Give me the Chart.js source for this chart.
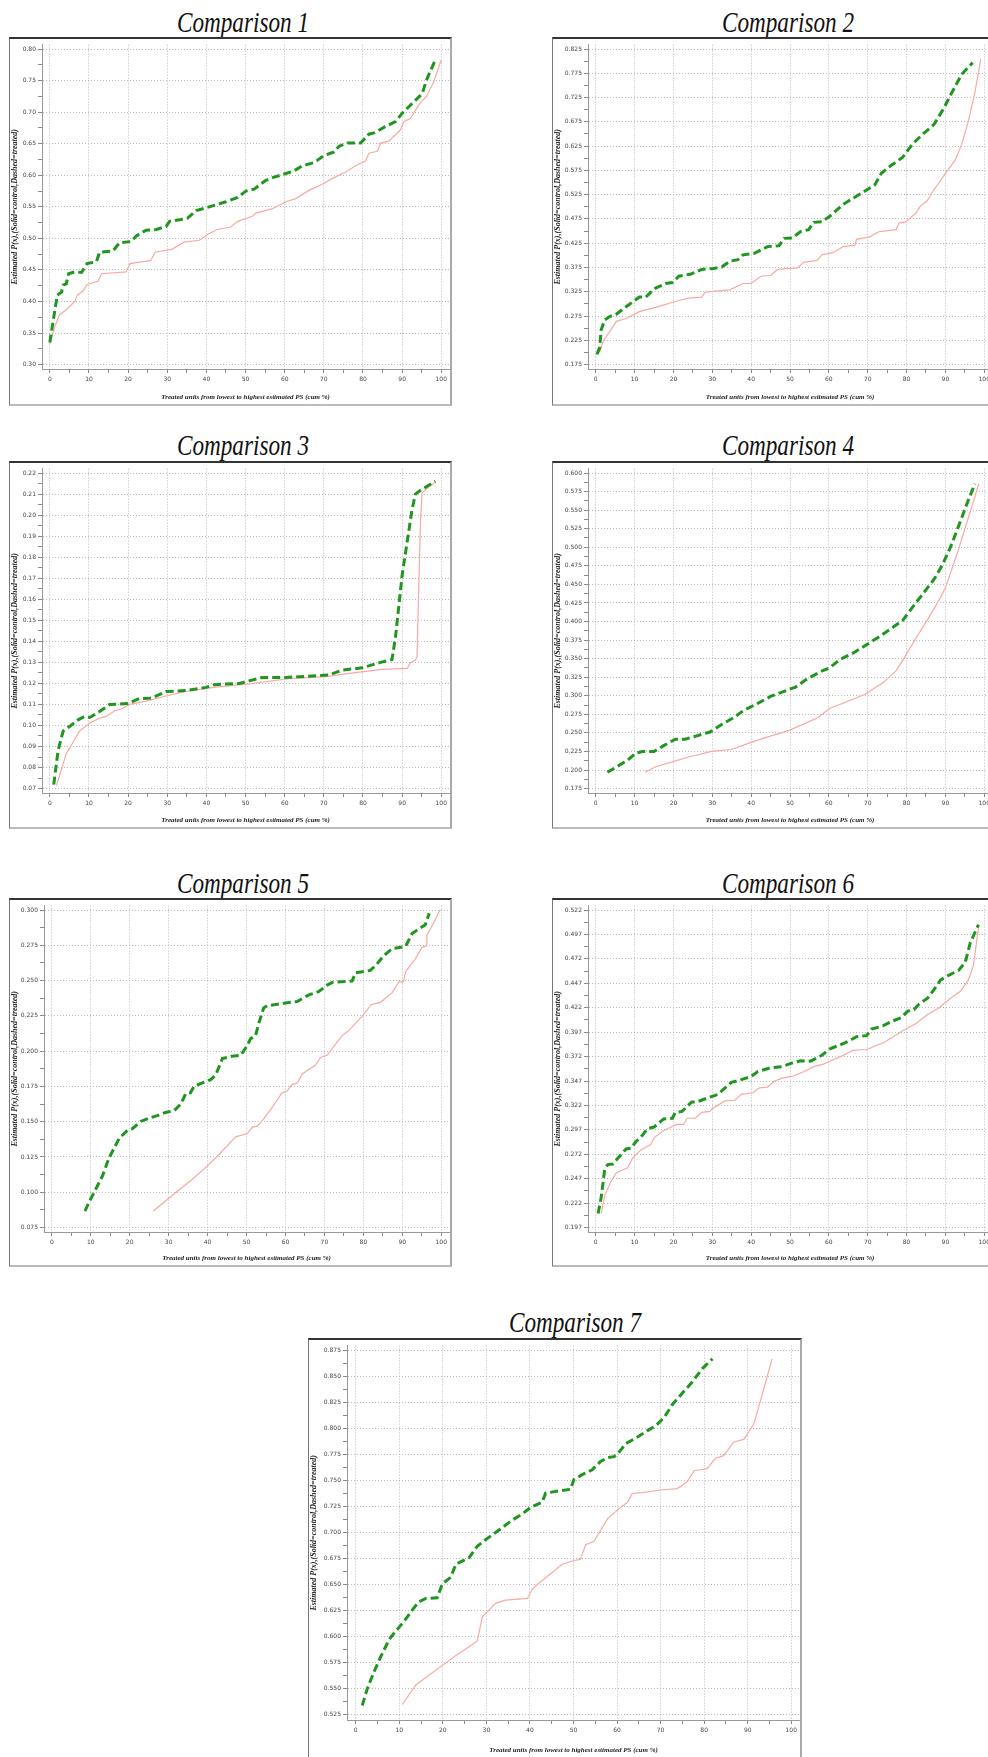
<!DOCTYPE html>
<html>
<head>
<meta charset="utf-8">
<script src="https://cdn.jsdelivr.net/npm/chart.js@4.4.1/dist/chart.umd.min.js"></script>
<style>
  html, body { margin: 0; padding: 0; background: #fff; overflow: hidden; }
  body { width: 988px; height: 1757px; position: relative; }
  .title { position: absolute; width: 300px; text-align: center; font-family: 'Liberation Serif', serif;
           font-style: italic; font-size: 29px; line-height: 29px; color: #111; transform: scaleX(0.8); white-space: nowrap; }
  .frame { position: absolute; box-sizing: border-box; background: #fff;
           border-top: 2px solid #333; border-left: 1px solid #777; border-right: 2px solid #aaa; border-bottom: 2px solid #bbb; }
  .frame div { position: relative; width: 100%; height: 100%; }
</style>
</head>
<body>
<script>
// x axis is the same everywhere (cumulative % of treated units)
const xTickLabels = ['0', '10', '20', '30', '40', '50', '60', '70', '80', '90', '100'];

const c1YTicks = ['0.30', '0.35', '0.40', '0.45', '0.50', '0.55', '0.60', '0.65', '0.70', '0.75', '0.80'];
const c2YTicks = ['0.175', '0.225', '0.275', '0.325', '0.375', '0.425', '0.475', '0.525', '0.575', '0.625', '0.675', '0.725', '0.775', '0.825'];
const c3YTicks = ['0.07', '0.08', '0.09', '0.10', '0.11', '0.12', '0.13', '0.14', '0.15', '0.16', '0.17', '0.18', '0.19', '0.20', '0.21', '0.22'];
const c4YTicks = ['0.175', '0.200', '0.225', '0.250', '0.275', '0.300', '0.325', '0.350', '0.375', '0.400', '0.425', '0.450', '0.475', '0.500', '0.525', '0.550', '0.575', '0.600'];
const c5YTicks = ['0.075', '0.100', '0.125', '0.150', '0.175', '0.200', '0.225', '0.250', '0.275', '0.300'];
const c6YTicks = ['0.197', '0.222', '0.247', '0.272', '0.297', '0.322', '0.347', '0.372', '0.397', '0.422', '0.447', '0.472', '0.497', '0.522'];
const c7YTicks = ['0.525', '0.550', '0.575', '0.600', '0.625', '0.650', '0.675', '0.700', '0.725', '0.750', '0.775', '0.800', '0.825', '0.850', '0.875'];

// [cum %, estimated P(x)]  dashed = treated, solid = control
const comp1Dashed = [[0,0.335],[0.85,0.369],[1.9,0.410],[3,0.415],[3.4,0.426],[4.2,0.428],[4.8,0.444],[6.4,0.447],[8.1,0.446],[9.5,0.460],[11.9,0.463],[12.7,0.478],[16.1,0.480],[17.8,0.493],[20.8,0.495],[22.1,0.504],[24.6,0.513],[27.2,0.514],[29.7,0.519],[30.6,0.527],[33.5,0.530],[35.2,0.532],[37.4,0.544],[40.3,0.549],[45,0.558],[48,0.565],[50.1,0.575],[52.2,0.578],[55.2,0.592],[57.3,0.597],[59.4,0.601],[62.4,0.607],[64.5,0.615],[67.5,0.620],[70,0.631],[72.6,0.637],[73.9,0.646],[76,0.651],[79.4,0.651],[81.5,0.665],[82.8,0.667],[85.7,0.677],[88.3,0.685],[90,0.698],[92.1,0.711],[95.1,0.729],[96.3,0.752],[98.5,0.783]];
const comp1Solid = [[0,0.333],[1.3,0.361],[2.5,0.379],[4.2,0.387],[6.4,0.400],[7,0.410],[8.5,0.417],[9.5,0.427],[12.3,0.432],[13.2,0.444],[19.5,0.447],[20.5,0.460],[25.8,0.465],[26.9,0.478],[31.3,0.483],[34.3,0.494],[38.2,0.497],[40.3,0.506],[42.8,0.514],[46.2,0.518],[48,0.527],[51.7,0.535],[52.6,0.540],[56.9,0.547],[60.3,0.558],[62.8,0.563],[66.2,0.576],[70,0.587],[72.2,0.595],[75.6,0.605],[78.1,0.615],[80.7,0.623],[81.5,0.635],[83.7,0.638],[84.5,0.651],[86.6,0.654],[89.6,0.672],[90.4,0.685],[92.1,0.690],[94.2,0.711],[96.3,0.726],[98,0.747],[100,0.783]];

const comp2Dashed = [[0.3,0.196],[1,0.210],[1.4,0.247],[2.3,0.267],[3.6,0.274],[5.3,0.279],[7.8,0.294],[11.2,0.314],[12.9,0.314],[15,0.331],[18,0.342],[19.7,0.344],[21.4,0.357],[24.3,0.361],[27.3,0.371],[30.3,0.373],[32.4,0.376],[34.5,0.388],[36.6,0.391],[37.9,0.401],[40.8,0.404],[44.2,0.418],[47.2,0.420],[48.5,0.435],[50.6,0.436],[52.7,0.449],[54.8,0.453],[56.1,0.468],[58.2,0.469],[60.3,0.481],[63.7,0.505],[66.3,0.518],[69.2,0.532],[71.8,0.545],[73.5,0.569],[76,0.585],[79,0.602],[81.5,0.629],[84.1,0.649],[87,0.669],[89.6,0.703],[91.7,0.736],[94.2,0.773],[97,0.797]];
const comp2Solid = [[1,0.200],[1.9,0.223],[3.6,0.243],[5.3,0.264],[7.8,0.270],[11.2,0.284],[16.3,0.295],[21.4,0.307],[23.9,0.312],[27.3,0.314],[28.1,0.324],[31.5,0.327],[34.5,0.329],[37.9,0.342],[40,0.342],[42.5,0.357],[45.1,0.359],[46.8,0.371],[51.9,0.374],[53.6,0.386],[56.9,0.389],[58.2,0.401],[61.2,0.406],[63.7,0.418],[66.7,0.421],[67.1,0.433],[70.5,0.438],[73,0.449],[77.3,0.453],[78.1,0.467],[79.8,0.469],[82.4,0.487],[83.6,0.502],[85.3,0.512],[87,0.535],[88.3,0.549],[90,0.569],[92.5,0.596],[94.2,0.629],[95.9,0.676],[97.6,0.736],[99.1,0.804]];

const comp3Dashed = [[1,0.0719],[2.1,0.088],[3.4,0.0973],[5.1,0.0996],[7.2,0.1027],[8.9,0.1043],[10.2,0.1038],[12.7,0.1066],[15.3,0.110],[19.9,0.1104],[22.9,0.1128],[25.9,0.113],[29.7,0.1161],[34.8,0.1166],[39.9,0.1181],[42,0.1194],[48.4,0.120],[50.9,0.1212],[54.3,0.1228],[60.3,0.1228],[63.7,0.1232],[71.3,0.124],[74.7,0.1263],[79.8,0.1274],[84.5,0.130],[87.4,0.1313],[88.3,0.142],[90,0.1714],[92.5,0.2023],[93.4,0.210],[95.1,0.2123],[98.5,0.2161]];
const comp3Solid = [[1.7,0.0714],[4.2,0.0866],[7.6,0.0973],[10.2,0.1012],[12.7,0.1035],[14.4,0.1043],[16.6,0.107],[18.3,0.1078],[20.4,0.110],[24.6,0.1116],[29.7,0.114],[34.8,0.1162],[42.4,0.1182],[50.9,0.1198],[60.3,0.1221],[70.5,0.1232],[79,0.1254],[84.9,0.1267],[91.3,0.1271],[92.1,0.130],[93.4,0.131],[93.8,0.1328],[94.7,0.1976],[95.1,0.2107],[98.5,0.2158]];

const comp4Dashed = [[3,0.197],[6.1,0.2066],[8.2,0.2131],[10.3,0.2228],[12,0.225],[15,0.225],[17.5,0.2329],[20.5,0.2416],[23,0.2416],[26,0.246],[29.4,0.2512],[32.4,0.2613],[35.3,0.27],[38.3,0.281],[41.7,0.2898],[45.1,0.2994],[48.5,0.306],[51.4,0.3117],[54.4,0.3227],[57.8,0.3323],[60.3,0.338],[62.9,0.349],[66.3,0.3577],[69.7,0.3687],[73,0.3796],[76.4,0.3919],[79,0.4015],[81.5,0.419],[84.1,0.4366],[87,0.4563],[89.2,0.476],[91.3,0.5001],[93.4,0.5286],[95.9,0.5636],[97.6,0.5855]];
const comp4Solid = [[12.7,0.197],[15.4,0.2044],[19.7,0.211],[23.9,0.2175],[29.8,0.225],[34.9,0.2276],[40,0.2372],[45.1,0.246],[49.8,0.2534],[53.6,0.2622],[57,0.27],[60.3,0.2832],[64.6,0.292],[69.2,0.3016],[70.5,0.306],[73.9,0.3174],[77.3,0.3336],[79.4,0.3511],[82.4,0.3774],[85.8,0.4059],[88.7,0.4322],[90,0.4453],[91.3,0.465],[93.4,0.4979],[95.5,0.533],[97.2,0.5614],[98.6,0.5855]];

const comp5Dashed = [[8.5,0.0866],[10,0.0954],[11.3,0.1023],[13,0.1115],[14.7,0.1243],[16,0.1312],[17.3,0.1381],[19.4,0.1439],[20.7,0.1451],[22.8,0.1502],[25,0.1525],[27.1,0.1543],[29.2,0.1566],[31.4,0.1578],[33.1,0.1624],[34.4,0.170],[35.6,0.1705],[36.5,0.1751],[38.2,0.177],[40.8,0.1798],[42.1,0.1832],[43.8,0.1948],[46.3,0.1964],[48.5,0.1971],[50.2,0.204],[51,0.2087],[52.3,0.211],[53.2,0.2202],[54.4,0.2306],[55.3,0.2322],[60,0.2341],[63,0.2352],[66,0.2399],[68.5,0.2422],[70.7,0.2468],[72,0.2487],[77.1,0.2496],[78,0.2556],[81.8,0.2572],[83.5,0.2618],[85.2,0.2676],[87.4,0.2727],[90.8,0.2741],[92.5,0.2834],[95.9,0.2896],[96.9,0.2977]];
const comp5Solid = [[26,0.0866],[30.9,0.0977],[36.1,0.1092],[39.9,0.1185],[42.9,0.1266],[47.2,0.1393],[50.2,0.1416],[51.5,0.1462],[52.8,0.1469],[54.4,0.152],[56.6,0.1601],[59.1,0.1705],[60.4,0.1717],[61.7,0.1763],[63,0.1774],[64.3,0.1839],[67.7,0.1902],[69,0.1955],[70.7,0.1971],[74.5,0.211],[76.2,0.2144],[80.1,0.226],[82,0.2329],[84.4,0.2346],[87.4,0.2415],[89.1,0.2491],[90.3,0.2491],[90.8,0.2561],[93.3,0.2653],[95,0.2734],[96.1,0.2746],[96.3,0.282],[98,0.2908],[99.7,0.300]];

const comp6Dashed = [[0.6,0.2114],[1.4,0.228],[2.3,0.2565],[3.1,0.2615],[4.4,0.2621],[6.5,0.2715],[7.8,0.2775],[9.1,0.2782],[10.3,0.2848],[12,0.2915],[13.3,0.2982],[15,0.2999],[17.5,0.3082],[19.7,0.3089],[20.5,0.3149],[22.2,0.3159],[24.7,0.3256],[26,0.3256],[29,0.330],[31.5,0.3333],[32.8,0.3383],[34.9,0.3456],[36.6,0.3473],[38.7,0.350],[40,0.3516],[41.7,0.3567],[45.1,0.3607],[48,0.3617],[50.2,0.365],[52.7,0.3677],[55.3,0.3673],[58.2,0.3734],[60.3,0.380],[62.9,0.384],[65.4,0.3884],[67.1,0.3924],[69.7,0.3934],[71,0.4001],[73.9,0.4034],[76.4,0.4084],[78.6,0.4118],[80.3,0.4185],[81.9,0.4201],[83.2,0.4258],[85.4,0.4318],[87,0.4402],[88.7,0.4502],[90.8,0.4552],[93.4,0.4602],[95.1,0.4686],[96.4,0.4886],[98.5,0.507]];
const comp6Solid = [[1.4,0.2114],[2.3,0.2297],[4,0.2448],[5.3,0.2531],[8.2,0.2581],[9.5,0.2681],[11.6,0.2765],[14.2,0.2822],[15,0.2889],[17.1,0.2955],[19.7,0.3005],[20.9,0.3026],[22.6,0.3026],[23.5,0.3089],[25.6,0.3089],[27.3,0.3149],[29.4,0.3159],[29.8,0.3182],[33.2,0.3266],[35.8,0.3273],[37.5,0.3333],[40.5,0.335],[42.1,0.340],[44.2,0.3407],[45.9,0.3467],[48,0.350],[51,0.3523],[53.6,0.3567],[56.1,0.3617],[58.6,0.3643],[60.8,0.3683],[62.9,0.3717],[66.3,0.3784],[68.4,0.379],[69.7,0.379],[72.2,0.3834],[74.3,0.3867],[76.4,0.3917],[79,0.3984],[82.4,0.4058],[85.4,0.4151],[88.3,0.4218],[91.3,0.4318],[93.8,0.4385],[95.9,0.4502],[97.2,0.4652],[98.1,0.4919],[98.6,0.5053]];

const comp7Dashed = [[1.5,0.534],[2.7,0.5507],[4.2,0.5664],[5.7,0.5805],[7.7,0.5977],[9.2,0.6055],[11.1,0.6149],[13,0.6259],[14.5,0.6337],[16.1,0.6369],[18.7,0.6375],[19.9,0.651],[21.8,0.6572],[23,0.6698],[26,0.676],[27.9,0.687],[29.8,0.6933],[32.9,0.7027],[35.9,0.7121],[38.3,0.7183],[40.2,0.7246],[42.8,0.7293],[43.6,0.7381],[46.7,0.7403],[49.3,0.7418],[50.1,0.7512],[52,0.7559],[54.3,0.7606],[56.2,0.7685],[57.8,0.7722],[59.3,0.7732],[60.4,0.7772],[62,0.7857],[64.3,0.791],[67,0.7982],[68.9,0.8029],[70.8,0.8108],[72.7,0.8233],[75,0.8343],[77.3,0.8452],[79.6,0.8578],[81.9,0.8672]];
const comp7Solid = [[10.7,0.535],[13.8,0.5538],[16.8,0.5632],[19.9,0.5726],[23,0.582],[26,0.5905],[27.9,0.5961],[29.1,0.6196],[32.1,0.6322],[34.4,0.6353],[39.4,0.6369],[40.6,0.6463],[42.8,0.6541],[45.1,0.6619],[47.4,0.6698],[49.7,0.6729],[51.6,0.6745],[52.8,0.6885],[54.7,0.6917],[57.8,0.7136],[60.4,0.723],[62.4,0.7293],[63.5,0.7378],[65.8,0.7387],[69.6,0.7409],[73.8,0.7425],[76.1,0.7491],[77.7,0.7597],[80.7,0.7616],[82.6,0.7716],[84.5,0.7741],[86.8,0.7873],[89.1,0.7898],[91.4,0.8045],[93,0.828],[95.6,0.8672]];

const xTitle = 'Treated units from lowest to highest estimated PS (cum %)';
const yTitle = 'Estimated P(x),(Solid=control,Dashed=treated)';

// layout of the seven framed panels on the page
const panels = [
  { title: 'Comparison 1', dashed: comp1Dashed, solid: comp1Solid, yTicks: c1YTicks, left: 9,   top: 37,   width: 443, height: 369, titleX: 243, titleBase: 32,   axisW: 32, axisH: 35 },
  { title: 'Comparison 2', dashed: comp2Dashed, solid: comp2Solid, yTicks: c2YTicks, left: 552, top: 37,   width: 443, height: 369, titleX: 788, titleBase: 32,   axisW: 35, axisH: 35 },
  { title: 'Comparison 3', dashed: comp3Dashed, solid: comp3Solid, yTicks: c3YTicks, left: 9,   top: 461,  width: 443, height: 368, titleX: 243, titleBase: 455,  axisW: 32, axisH: 34 },
  { title: 'Comparison 4', dashed: comp4Dashed, solid: comp4Solid, yTicks: c4YTicks, left: 552, top: 461,  width: 443, height: 368, titleX: 788, titleBase: 455,  axisW: 35, axisH: 34 },
  { title: 'Comparison 5', dashed: comp5Dashed, solid: comp5Solid, yTicks: c5YTicks, left: 9,   top: 898,  width: 443, height: 369, titleX: 243, titleBase: 893,  axisW: 34, axisH: 33 },
  { title: 'Comparison 6', dashed: comp6Dashed, solid: comp6Solid, yTicks: c6YTicks, left: 552, top: 898,  width: 443, height: 369, titleX: 788, titleBase: 893,  axisW: 35, axisH: 33 },
  { title: 'Comparison 7', dashed: comp7Dashed, solid: comp7Solid, yTicks: c7YTicks, left: 308, top: 1338, width: 494, height: 421, titleX: 575, titleBase: 1332, axisW: 38, axisH: 37 }
];

const tickFont = { family: 'DejaVu Sans', size: 6 };
const axisTitleFont = { family: 'Liberation Serif', size: 8, style: 'italic', weight: 'bold' };

// majors from the label list plus one unlabelled minor tick between each pair
function withMinors(labels) {
  const vals = labels.map(Number);
  const out = [];
  vals.forEach((v, i) => {
    out.push({ value: v, label: labels[i] });
    if (i < vals.length - 1) out.push({ value: (v + vals[i + 1]) / 2, label: '', minor: true });
  });
  return out;
}

const gridColor = ctx => (ctx.tick && ctx.tick.minor) ? 'rgba(0,0,0,0)' : '#b8b8b8';

panels.forEach(p => {
  const t = document.createElement('div');
  t.className = 'title';
  t.textContent = p.title;
  t.style.left = (p.titleX - 150) + 'px';
  t.style.top = (p.titleBase - 24) + 'px';
  document.body.appendChild(t);

  const frame = document.createElement('div');
  frame.className = 'frame';
  Object.assign(frame.style, { left: p.left + 'px', top: p.top + 'px', width: p.width + 'px', height: p.height + 'px' });
  const holder = document.createElement('div');
  const canvas = document.createElement('canvas');
  holder.appendChild(canvas);
  frame.appendChild(holder);
  document.body.appendChild(frame);

  const xTicks = withMinors(xTickLabels);
  const yTicks = withMinors(p.yTicks);
  const yVals = p.yTicks.map(Number);
  const yLo = yVals[0], yHi = yVals[yVals.length - 1];
  const yPad = (yHi - yLo) * 0.014;

  new Chart(canvas, {
    type: 'line',
    data: {
      datasets: [
        { data: p.dashed.map(([x, y]) => ({ x, y })), borderColor: '#1f961f', borderWidth: 3, borderDash: [8, 4], pointRadius: 0, tension: 0, fill: false },
        { data: p.solid.map(([x, y]) => ({ x, y })), borderColor: '#f6aaa2', borderWidth: 1.2, pointRadius: 0, tension: 0, fill: false }
      ]
    },
    options: {
      responsive: true,
      maintainAspectRatio: false,
      animation: false,
      layout: { padding: 0 },
      plugins: { legend: { display: false }, tooltip: { enabled: false } },
      scales: {
        x: {
          type: 'linear', min: -2, max: 102,
          afterBuildTicks: s => { s.ticks = xTicks.map(t => ({ ...t })); },
          afterFit: s => { s.height = p.axisH; },
          ticks: { autoSkip: false, maxRotation: 0, padding: 3, color: '#444', font: tickFont,
                   callback: (v, i, ticks) => ticks[i].minor ? '' : ticks[i].label },
          grid: { color: gridColor, tickColor: '#888', tickLength: 4, lineWidth: 1 },
          border: { color: '#999', width: 1, dash: [1, 2] },
          title: { display: true, text: xTitle, color: '#222', font: { ...axisTitleFont, size: 7 }, padding: { top: 0, bottom: 3 } }
        },
        y: {
          type: 'linear', min: yLo - yPad, max: yHi + yPad,
          afterBuildTicks: s => { s.ticks = yTicks.map(t => ({ ...t })); },
          afterFit: s => { s.width = p.axisW; },
          ticks: { autoSkip: false, padding: 2, color: '#444', font: tickFont,
                   callback: (v, i, ticks) => ticks[i].minor ? '' : ticks[i].label },
          grid: { color: gridColor, tickColor: '#888', tickLength: 4, lineWidth: 1 },
          border: { color: '#999', width: 1, dash: [1, 2] },
          title: { display: true, text: yTitle, color: '#222', font: axisTitleFont, padding: { top: 0, bottom: 0 } }
        }
      }
    }
  });
});
</script>
</body>
</html>
